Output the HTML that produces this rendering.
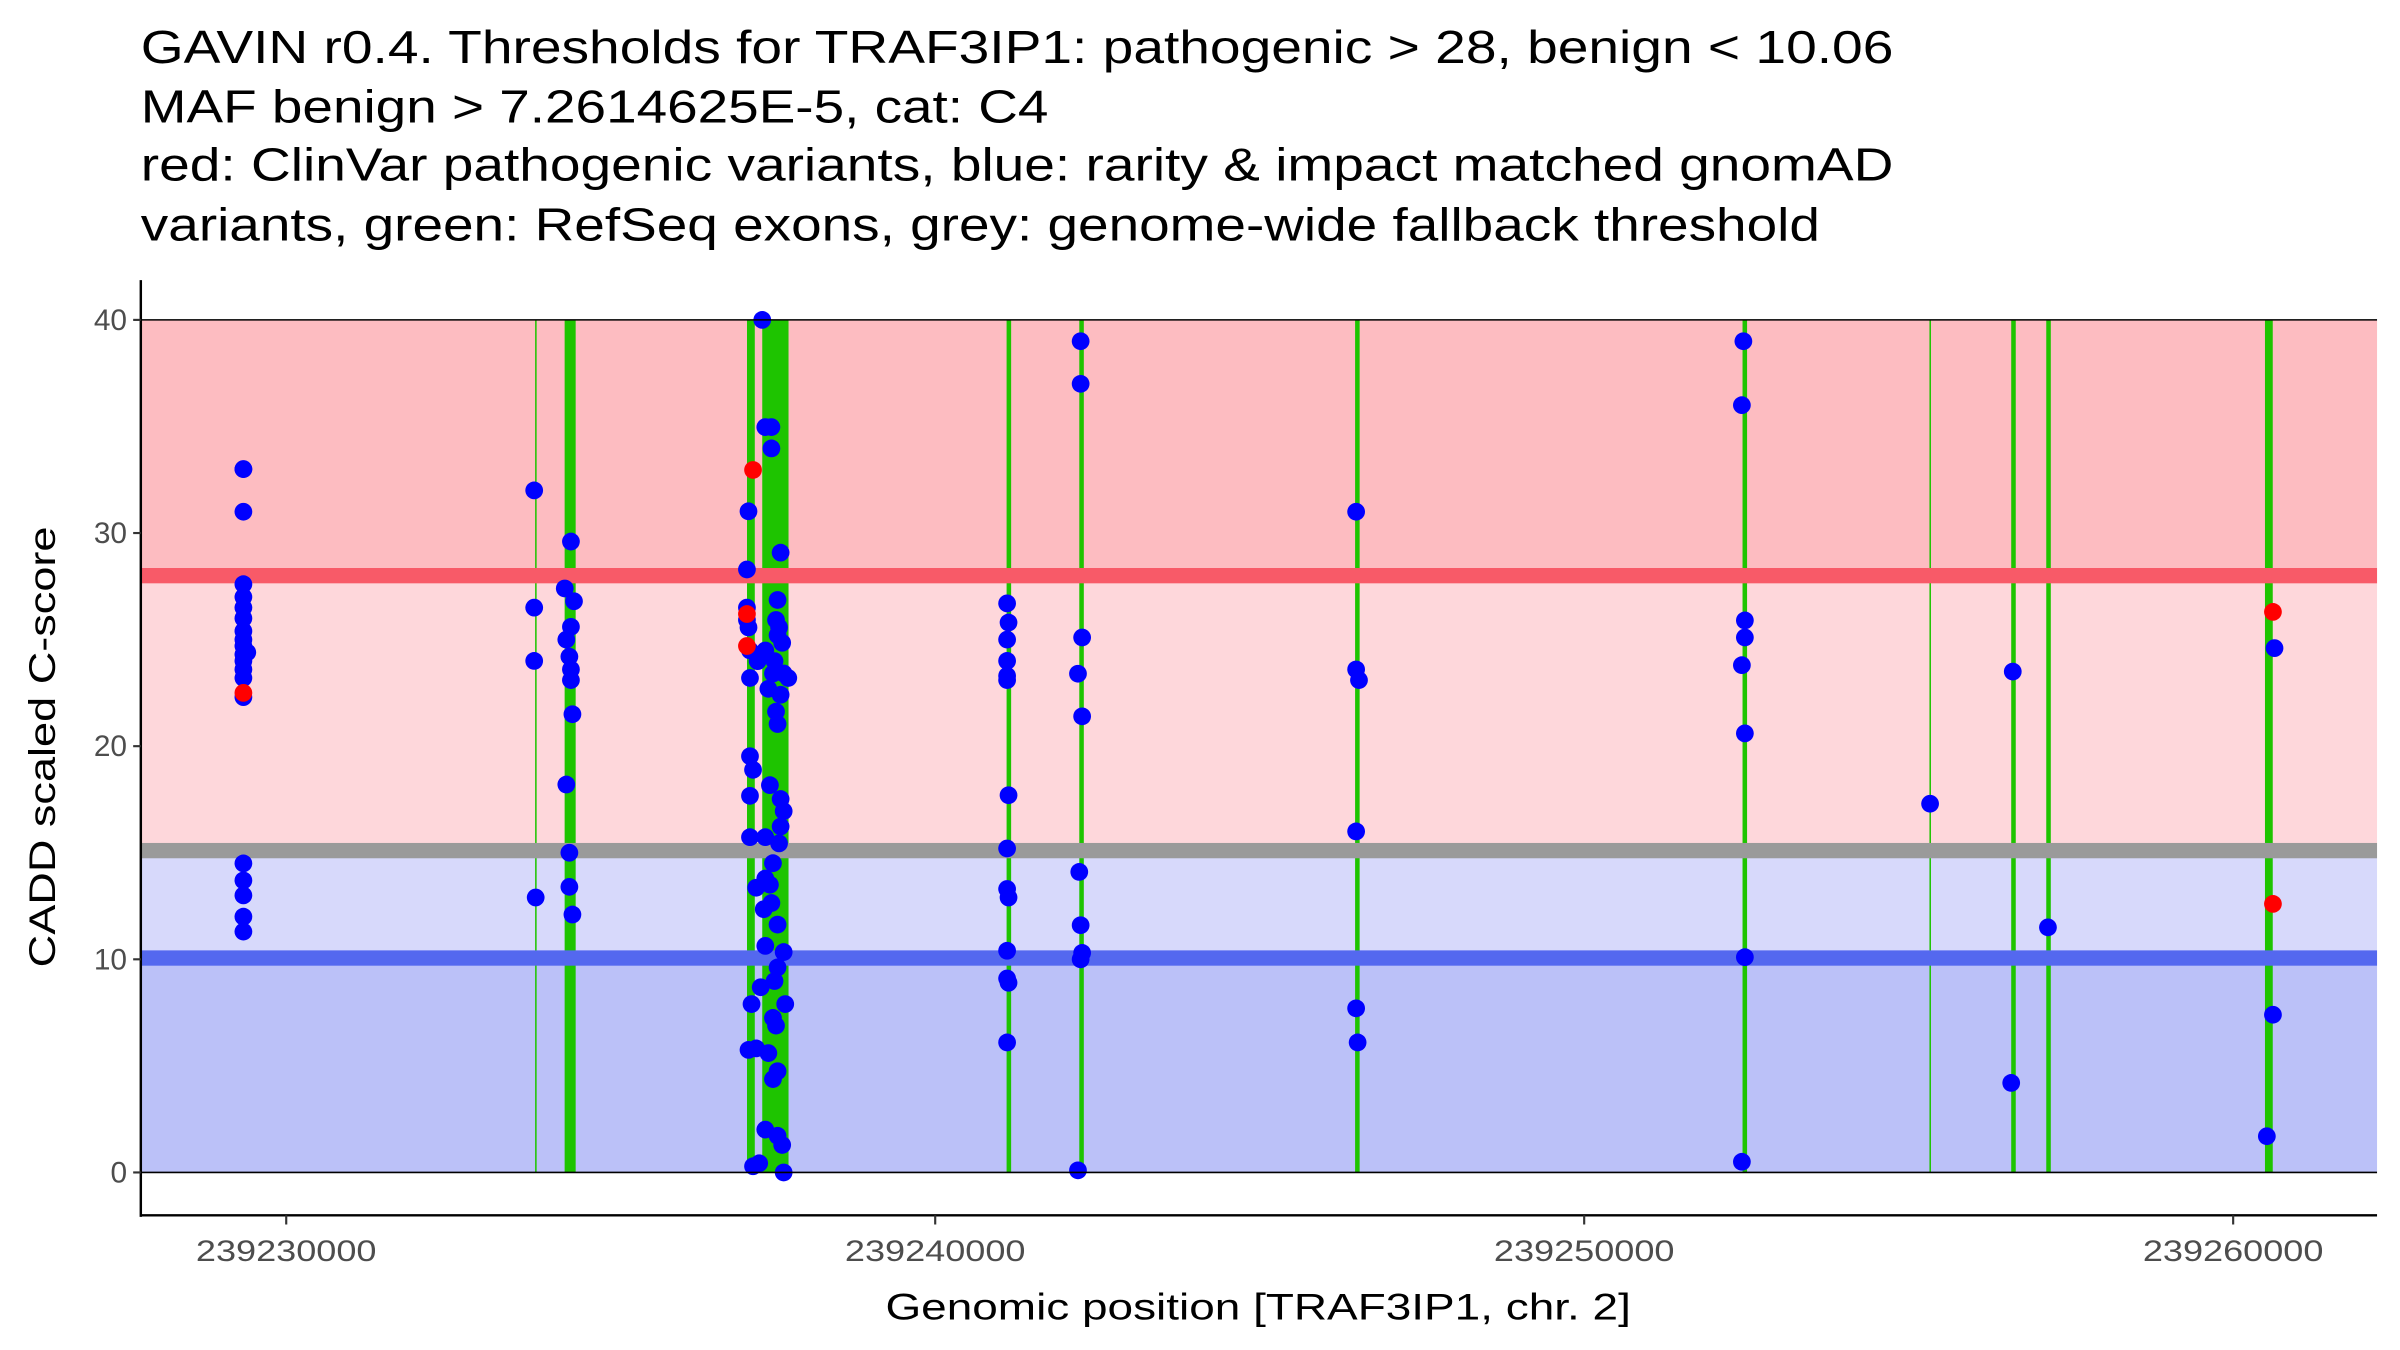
<!DOCTYPE html>
<html><head><meta charset="utf-8"><style>
html,body{margin:0;padding:0;background:#fff;width:2400px;height:1350px;overflow:hidden}
svg{display:block}
text{font-family:"Liberation Sans",Arial,sans-serif}
</style></head><body>
<svg id="chart" width="2400" height="1350" viewBox="0 0 1568 882" preserveAspectRatio="none" xmlns="http://www.w3.org/2000/svg">
<g font-size="30.5" fill="#000">
<text x="92" y="41" textLength="1145" lengthAdjust="spacingAndGlyphs">GAVIN r0.4. Thresholds for TRAF3IP1: pathogenic &gt; 28, benign &lt; 10.06</text>
<text x="92" y="80" textLength="593" lengthAdjust="spacingAndGlyphs">MAF benign &gt; 7.2614625E-5, cat: C4</text>
<text x="92" y="118" textLength="1145" lengthAdjust="spacingAndGlyphs">red: ClinVar pathogenic variants, blue: rarity &amp; impact matched gnomAD</text>
<text x="92" y="157" textLength="1097" lengthAdjust="spacingAndGlyphs">variants, green: RefSeq exons, grey: genome-wide fallback threshold</text>
</g>
<g id="bands"></g>
<g id="exons"></g>
<g id="lines"></g>
<g id="pts"></g>
<g id="axes"></g>
<text x="0" y="0" font-size="24" text-anchor="middle" textLength="288" lengthAdjust="spacingAndGlyphs" transform="translate(36,488) rotate(-90)">CADD scaled C-score</text>
<text x="822" y="862" font-size="24" text-anchor="middle" textLength="487" lengthAdjust="spacingAndGlyphs">Genomic position [TRAF3IP1, chr. 2]</text>
</svg>
<script>
const yTicks=[0,10,20,30,40];
const xTicks=[239230000,239240000,239250000,239260000];
const thresholds=[28,15.1,10.06];
const exonStart=[239233835,239234290,239237100,239237335,239241100,239242220,239246470,239252440,239255320,239256580,239257120,239260490];
const exonEnd=[239233855,239234460,239237220,239237740,239241170,239242290,239246540,239252510,239255340,239256650,239257190,239260610];
const bluePos=[
239229340,239229340,239229340,239229340,239229340,239229340,239229340,239229340,239229340,239229340,239229340,239229340,239229340,239229340,239229340,239229340,239229340,239229340,239229340,239229340,239229400,
239233821,239233821,239233821,239233844,
239234387,239234292,239234434,239234387,239234316,239234363,239234387,239234387,239234410,239234316,239234363,239234363,239234410,
239237335,239237382,239237476,239237476,239237123,239237618,239237099,239237571,239237099,239237099,239237123,239237547,239237594,239237571,239237642,239237146,
239237382,239237264,239237524,239237146,239237500,239237665,239237736,239237618,239237429,239237547,239237571,239237146,239237193,239237146,239237453,239237618,
239237665,239237618,239237594,239237146,239237382,239237500,239237382,239237453,239237241,239237358,239237476,239237571,239237382,239237665,239237571,239237524,
239237170,239237311,239237689,239237500,239237547,239237123,239237241,239237429,239237500,239237571,239237382,239237571,239237642,239237193,239237288,239237665,
239241108,239241130,239241108,239241108,239241108,239241108,239241130,239241108,239241108,239241130,239241108,239241108,239241130,239241108,
239242241,239242241,239242264,239242200,239242264,239242220,239242241,239242264,239242241,239242200,
239246486,239246486,239246530,239246486,239246486,239246509,
239252453,239252430,239252476,239252476,239252430,239252476,239252476,239252430,
239255330,239256604,239256580,239257146,239260637,239260613,239260519];
const blueVal=[
33,33,31,27.6,27,26.5,26,25.4,25,24.7,24.3,24,23.6,23.2,22.3,14.5,13.7,13,12,11.3,24.4,
32,26.5,24,12.9,
29.6,27.4,26.8,25.6,25,24.2,23.6,23.1,21.5,18.2,15,13.4,12.1,
40,34.97,34.97,33.97,31.02,29.08,28.29,26.86,26.5,25.92,25.57,25.92,25.57,25.21,24.85,24.49,
24.49,23.99,23.99,23.2,23.41,23.41,23.2,22.41,22.69,21.62,21.04,19.53,18.89,17.67,18.17,17.52,
16.95,16.23,15.44,15.73,15.73,14.51,13.79,13.5,13.36,12.35,12.64,11.63,10.63,10.34,9.62,8.98,
7.9,8.69,7.9,7.25,6.89,5.75,5.82,5.6,4.38,4.75,2.01,1.72,1.29,0.29,0.43,0,
26.7,25.8,25,24,23.3,23.1,17.7,15.2,13.3,12.9,10.4,9.1,8.9,6.1,
39,37,25.1,23.4,21.4,14.1,11.6,10.3,10,0.1,
31,23.6,23.1,16,7.7,6.1,
39,36,25.9,25.1,23.8,20.6,10.1,0.5,
17.3,23.5,4.2,11.5,24.6,7.4,1.7];
const redPos=[239229340,239237193,239237099,239237099,239260613,239260613];
const redVal=[22.5,32.96,26.2,24.7,26.3,12.6];

const NS="http://www.w3.org/2000/svg";
const X0=92,X1=1553,YT=209,YB=766;
function sx(p){return 187+(p-239230000)*0.0424;}
function sy(v){return YB-(v/40)*(YB-YT);}
function mk(tag,attrs,parent){const e=document.createElementNS(NS,tag);for(const k in attrs)e.setAttribute(k,attrs[k]);parent.appendChild(e);return e;}
const bands=document.getElementById('bands');
let r;
r=mk('rect',{x:X0,y:sy(40),width:X1-X0,height:sy(thresholds[0])-sy(40),fill:'#fdbcc1'},bands);


r=mk('rect',{x:X0,y:sy(thresholds[0]),width:X1-X0,height:sy(thresholds[1])-sy(thresholds[0]),fill:'#fed7db'},bands);


r=mk('rect',{x:X0,y:sy(thresholds[1]),width:X1-X0,height:sy(thresholds[2])-sy(thresholds[1]),fill:'#d7d9fb'},bands);


r=mk('rect',{x:X0,y:sy(thresholds[2]),width:X1-X0,height:sy(0)-sy(thresholds[2]),fill:'#bbc1f8'},bands);


const exons=document.getElementById('exons');
for(let i=0;i<exonStart.length;i++){
  const a=sx(exonStart[i]),b=sx(exonEnd[i]);
  const e=mk('rect',{x:a,y:YT,width:Math.max(b-a,1),height:YB-YT,fill:'#1ec400'},exons);
  
  
}
const lines=document.getElementById('lines');
const lc=['#f85a68','#9a9a9a','#5468ef'];
const ln=['pathogenic-threshold-line','fallback-threshold-line','benign-threshold-line'];
for(let i=0;i<3;i++){
  const l=mk('rect',{x:X0,y:sy(thresholds[i])-5,width:X1-X0,height:10,fill:lc[i]},lines);
  
  
}
const pts=document.getElementById('pts');
for(let i=0;i<bluePos.length;i++){
  const c=mk('circle',{cx:sx(bluePos[i]),cy:sy(blueVal[i]),r:5.8,fill:'#0000ff'},pts);
  
  
}
for(let i=0;i<redPos.length;i++){
  const c=mk('circle',{cx:sx(redPos[i]),cy:sy(redVal[i]),r:5.8,fill:'#ff0000'},pts);
  
  
}
const axes=document.getElementById('axes');
let t;
t=mk('line',{x1:X0,x2:X1,y1:YT,y2:YT,stroke:'#000','stroke-width':1},axes);


t=mk('line',{x1:X0,x2:X1,y1:YB,y2:YB,stroke:'#000','stroke-width':1},axes);


t=mk('line',{x1:X0,x2:X0,y1:183,y2:795,stroke:'#000','stroke-width':1.6},axes);


t=mk('line',{x1:X0,x2:X1,y1:794,y2:794,stroke:'#000','stroke-width':1.6},axes);


for(const v of yTicks){
  t=mk('line',{x1:X0-5,x2:X0,y1:sy(v),y2:sy(v),stroke:'#333','stroke-width':1.4},axes);
  
  
  t=mk('text',{x:X0-9,y:sy(v)+6.5,'font-size':19.5,fill:'#4d4d4d','text-anchor':'end'},axes);
  t.textContent=String(v);
  
  
}
for(const v of xTicks){
  t=mk('line',{x1:sx(v),x2:sx(v),y1:794,y2:800,stroke:'#333','stroke-width':1.4},axes);
  
  
  t=mk('text',{x:sx(v),y:824,'font-size':19.5,fill:'#4d4d4d','text-anchor':'middle',textLength:118,lengthAdjust:'spacingAndGlyphs'},axes);
  t.textContent=String(v);
  
  
}
</script>
</body></html>
